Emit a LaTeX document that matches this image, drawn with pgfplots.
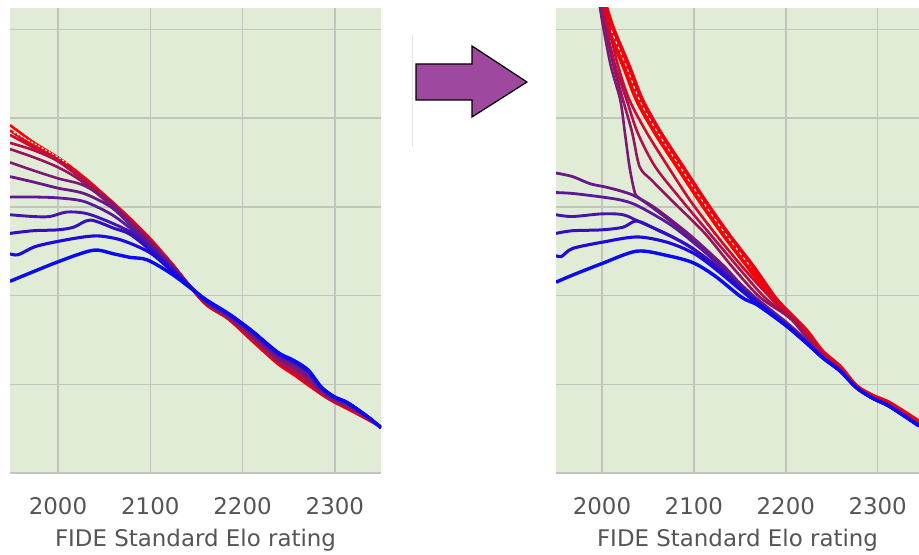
\documentclass[border=0pt]{standalone}
\usepackage{fontspec}
\setmainfont{DejaVu Sans}
\usepackage{pgfplots}
\pgfplotsset{compat=1.18}

\definecolor{panelbg}{RGB}{225,236,214}
\definecolor{gridc}{RGB}{192,198,188}
\definecolor{txt}{RGB}{85,85,85}
\definecolor{arrowc}{RGB}{158,72,160}
% red -> purple -> blue
\definecolor{c1}{RGB}{255,0,0}
\definecolor{c2}{RGB}{235,0,20}
\definecolor{c3}{RGB}{205,10,50}
\definecolor{c4}{RGB}{180,15,75}
\definecolor{c5}{RGB}{150,20,95}
\definecolor{c6}{RGB}{125,25,115}
\definecolor{c7}{RGB}{105,25,135}
\definecolor{c8}{RGB}{90,25,155}
\definecolor{c9}{RGB}{70,20,175}
\definecolor{c10}{RGB}{50,15,195}
\definecolor{c11}{RGB}{30,10,220}
\definecolor{c12}{RGB}{10,10,245}

\pgfplotsset{
  elo/.style={
    scale only axis, height=465bp,
    ymin=0, ymax=5.24,
    xtick={2000,2100,2200,2300}, ytick={0,1,2,3,4,5}, yticklabels={},
    scaled x ticks=false,
    grid=major, major grid style={gridc, line width=1.5bp},
    axis line style={draw=none}, tick style={draw=none},
    axis background/.style={fill=panelbg},
    /pgf/number format/assume math mode=true,
    /pgf/number format/1000 sep={},
    xticklabel style={font=\fontsize{23}{27}\selectfont, text=txt,
      inner sep=0pt, anchor=north, yshift=-24bp},
    xlabel={FIDE Standard Elo rating},
    xlabel style={at={(axis description cs:0.5,0)}, anchor=north,
      yshift=-56bp, inner sep=0pt, font=\fontsize{23}{27}\selectfont, text=txt},
    every axis plot/.append style={smooth, no markers},
  }
}

\begin{document}
\begin{tikzpicture}[x=1bp,y=1bp]
\path[use as bounding box, fill=white] (0,0) rectangle (919,555);

% left panel
\begin{axis}[elo, at={(10bp,82bp)}, anchor=south west, width=371bp,
  xmin=1948, xmax=2350]
\addplot[c1, line width=2.6bp] coordinates {(1948,3.92)(1973,3.73)(2005,3.52)(2032,3.30)(2057,3.07)(2078,2.87)(2100,2.64)(2125,2.34)(2158,1.92)(2184,1.74)(2209,1.50)(2238,1.23)(2255,1.11)(2271,0.99)(2285,0.89)(2299,0.80)(2314,0.72)(2336,0.60)(2350,0.52)};
\addplot[c2, line width=2.6bp] coordinates {(1948,3.86)(1970,3.71)(2002,3.52)(2028,3.32)(2057,3.07)(2078,2.86)(2100,2.63)(2125,2.34)(2158,1.92)(2184,1.74)(2209,1.51)(2238,1.24)(2255,1.12)(2271,1.00)(2285,0.89)(2299,0.80)(2314,0.73)(2336,0.60)(2350,0.52)};
\addplot[c3, line width=2.6bp] coordinates {(1948,3.81)(1973,3.67)(1999,3.52)(2028,3.30)(2057,3.06)(2078,2.85)(2100,2.62)(2125,2.33)(2158,1.93)(2184,1.75)(2209,1.52)(2238,1.25)(2255,1.14)(2271,1.01)(2285,0.90)(2299,0.81)(2314,0.73)(2336,0.61)(2350,0.52)};
\addplot[c4, line width=2.6bp] coordinates {(1948,3.72)(1973,3.64)(1999,3.52)(2024,3.34)(2057,3.04)(2078,2.84)(2100,2.61)(2125,2.33)(2158,1.93)(2184,1.75)(2209,1.53)(2238,1.26)(2255,1.15)(2271,1.03)(2285,0.91)(2299,0.81)(2314,0.74)(2336,0.61)(2350,0.52)};
\addplot[c5, line width=2.6bp] coordinates {(1948,3.65)(1973,3.56)(1999,3.45)(2024,3.30)(2057,3.02)(2078,2.83)(2100,2.60)(2125,2.32)(2158,1.94)(2184,1.76)(2209,1.55)(2238,1.28)(2255,1.18)(2271,1.06)(2285,0.92)(2299,0.82)(2314,0.75)(2336,0.62)(2350,0.52)};
\addplot[c6, line width=2.6bp] coordinates {(1948,3.50)(1973,3.41)(2000,3.32)(2028,3.24)(2057,3.05)(2078,2.82)(2100,2.59)(2125,2.32)(2158,1.94)(2184,1.77)(2209,1.56)(2238,1.30)(2255,1.20)(2271,1.08)(2285,0.93)(2299,0.83)(2314,0.76)(2336,0.62)(2350,0.52)};
\addplot[c7, line width=2.8bp] coordinates {(1948,3.34)(1973,3.28)(2000,3.21)(2028,3.15)(2057,3.00)(2078,2.80)(2100,2.58)(2125,2.31)(2158,1.95)(2184,1.78)(2209,1.58)(2238,1.31)(2255,1.22)(2271,1.10)(2285,0.94)(2299,0.84)(2314,0.77)(2336,0.62)(2350,0.51)};
\addplot[c8, line width=2.8bp] coordinates {(1948,3.11)(1973,3.11)(2000,3.10)(2028,3.06)(2057,2.92)(2078,2.76)(2100,2.56)(2125,2.30)(2158,1.95)(2184,1.78)(2209,1.59)(2238,1.33)(2255,1.24)(2271,1.12)(2285,0.95)(2299,0.85)(2314,0.78)(2336,0.63)(2350,0.51)};
\addplot[c9, line width=2.9bp] coordinates {(1948,2.91)(1973,2.89)(1991,2.89)(2009,2.94)(2028,2.93)(2046,2.87)(2078,2.72)(2100,2.54)(2125,2.29)(2158,1.96)(2184,1.79)(2209,1.60)(2238,1.34)(2255,1.25)(2271,1.14)(2285,0.96)(2299,0.86)(2314,0.79)(2336,0.63)(2350,0.51)};
\addplot[c10, line width=3bp] coordinates {(1948,2.70)(1973,2.73)(2000,2.74)(2017,2.77)(2035,2.85)(2060,2.76)(2078,2.69)(2100,2.51)(2125,2.28)(2158,1.96)(2184,1.80)(2209,1.61)(2238,1.35)(2255,1.26)(2271,1.15)(2285,0.97)(2299,0.86)(2314,0.79)(2336,0.63)(2350,0.51)};
\addplot[c11, line width=3.1bp] coordinates {(1948,2.47)(1957,2.46)(1975,2.55)(2000,2.61)(2028,2.66)(2046,2.67)(2070,2.62)(2100,2.48)(2125,2.26)(2158,1.97)(2184,1.80)(2209,1.61)(2238,1.36)(2255,1.27)(2271,1.16)(2285,0.97)(2299,0.86)(2314,0.79)(2336,0.63)(2350,0.51)};
\addplot[c12, line width=3.4bp] coordinates {(1948,2.16)(2000,2.38)(2038,2.51)(2060,2.47)(2078,2.43)(2097,2.40)(2125,2.23)(2158,1.97)(2184,1.80)(2209,1.61)(2238,1.36)(2255,1.27)(2271,1.16)(2285,0.97)(2299,0.86)(2314,0.79)(2336,0.63)(2350,0.51)};
\addplot[white, line width=1bp, dash pattern=on 2bp off 2bp] coordinates {(1952,3.84)(1975,3.71)(2000,3.56)(2010,3.49)};
\end{axis}

% right panel
\begin{axis}[elo, at={(556bp,82bp)}, anchor=south west, width=363bp,
  xmin=1950, xmax=2345]
\addplot[c1, line width=4bp] coordinates {(1991,5.55)(1999,5.24)(2007,4.99)(2024,4.57)(2038,4.20)(2058,3.83)(2082,3.45)(2106,3.07)(2131,2.70)(2159,2.32)(2184,1.98)(2203,1.78)(2223,1.58)(2240,1.35)(2259,1.18)(2277,0.97)(2295,0.85)(2313,0.77)(2345,0.56)};
\addplot[c1, line width=4bp] coordinates {(1994,5.55)(2002,5.24)(2010,4.99)(2027,4.57)(2041,4.20)(2061,3.83)(2085,3.45)(2109,3.07)(2134,2.70)(2162,2.32)(2186,1.98)(2204,1.79)(2223,1.59)(2240,1.36)(2259,1.19)(2277,0.97)(2295,0.86)(2313,0.78)(2345,0.57)};
\addplot[c2, line width=4bp] coordinates {(1997,5.55)(2005,5.24)(2013,4.99)(2030,4.57)(2044,4.20)(2064,3.83)(2088,3.45)(2112,3.07)(2137,2.70)(2165,2.32)(2188,1.98)(2205,1.79)(2223,1.60)(2240,1.37)(2259,1.20)(2277,0.98)(2295,0.87)(2313,0.79)(2345,0.58)};
\addplot[white, line width=1bp, dash pattern=on 3bp off 3bp] coordinates {(2010,4.99)(2027,4.57)(2041,4.20)(2061,3.83)(2085,3.45)(2109,3.07)(2134,2.70)(2162,2.32)};
\addplot[c3, line width=2.6bp] coordinates {(1998,5.55)(2001,5.24)(2008,4.99)(2018,4.57)(2030,4.20)(2049,3.83)(2072,3.45)(2096,3.07)(2123,2.70)(2153,2.32)(2183,1.98)(2215,1.67)(2240,1.34)(2259,1.17)(2277,0.97)(2295,0.85)(2313,0.77)(2345,0.55)};
\addplot[c4, line width=2.6bp] coordinates {(1997,5.55)(2000,5.24)(2005,4.99)(2015,4.57)(2027,4.20)(2039,3.83)(2058,3.45)(2087,3.07)(2117,2.70)(2148,2.32)(2177,1.98)(2210,1.70)(2223,1.54)(2240,1.33)(2259,1.17)(2277,0.97)(2295,0.85)(2313,0.76)(2345,0.55)};
\addplot[c5, line width=2.6bp] coordinates {(1996,5.55)(1999,5.24)(2004,4.99)(2013,4.57)(2023,4.20)(2033,3.83)(2041,3.45)(2054,3.30)(2076,3.07)(2112,2.70)(2142,2.32)(2172,1.98)(2204,1.75)(2223,1.52)(2240,1.32)(2259,1.16)(2277,0.97)(2295,0.85)(2313,0.76)(2345,0.54)};
\addplot[c6, line width=2.6bp] coordinates {(1995,5.55)(1998,5.24)(2002,4.99)(2010,4.57)(2020,4.20)(2025,3.83)(2030,3.45)(2035,3.19)(2039,3.11)(2059,2.98)(2096,2.68)(2132,2.34)(2150,2.14)(2168,1.97)(2186,1.82)(2204,1.67)(2223,1.49)(2240,1.31)(2259,1.16)(2277,0.96)(2295,0.84)(2313,0.75)(2345,0.54)};
\addplot[c7, line width=2.8bp] coordinates {(1950,3.38)(1968,3.34)(1987,3.26)(2005,3.22)(2023,3.17)(2038,3.11)(2059,2.96)(2096,2.66)(2132,2.32)(2150,2.12)(2168,1.96)(2186,1.81)(2204,1.66)(2223,1.48)(2240,1.31)(2259,1.16)(2277,0.96)(2295,0.84)(2313,0.75)(2345,0.54)};
\addplot[c8, line width=2.8bp] coordinates {(1950,3.16)(1968,3.15)(2000,3.11)(2023,3.07)(2041,3.00)(2077,2.78)(2114,2.47)(2150,2.12)(2168,1.95)(2186,1.80)(2204,1.65)(2223,1.47)(2240,1.30)(2259,1.15)(2277,0.96)(2295,0.84)(2313,0.75)(2345,0.53)};
\addplot[c9, line width=2.9bp] coordinates {(1950,2.91)(1968,2.89)(2000,2.92)(2023,2.91)(2041,2.83)(2077,2.66)(2114,2.42)(2150,2.10)(2168,1.94)(2186,1.79)(2204,1.64)(2223,1.47)(2240,1.30)(2259,1.15)(2277,0.96)(2295,0.84)(2313,0.75)(2345,0.53)};
\addplot[c10, line width=3bp] coordinates {(1950,2.70)(1968,2.73)(2000,2.74)(2023,2.77)(2038,2.84)(2060,2.74)(2096,2.55)(2132,2.25)(2150,2.09)(2168,1.93)(2186,1.78)(2204,1.63)(2223,1.46)(2240,1.30)(2259,1.15)(2277,0.96)(2295,0.84)(2313,0.75)(2345,0.53)};
\addplot[c11, line width=3.1bp] coordinates {(1950,2.45)(1956,2.44)(1968,2.53)(2000,2.60)(2038,2.66)(2071,2.60)(2099,2.48)(2121,2.32)(2150,2.07)(2168,1.92)(2186,1.78)(2204,1.63)(2223,1.46)(2240,1.30)(2259,1.15)(2277,0.96)(2295,0.84)(2313,0.75)(2345,0.53)};
\addplot[c12, line width=3.4bp] coordinates {(1950,2.15)(1968,2.23)(2000,2.36)(2038,2.50)(2071,2.45)(2099,2.37)(2123,2.22)(2152,1.98)(2168,1.90)(2186,1.77)(2204,1.63)(2223,1.46)(2240,1.30)(2259,1.15)(2277,0.96)(2295,0.84)(2313,0.75)(2345,0.53)};
\end{axis}

% arrow between the panels
\draw[gray!20, line width=0.8bp] (412,408) -- (412,520);
\draw[fill=arrowc, line width=1.2bp, line join=miter]
  (416,455) -- (472,455) -- (472,438) -- (527,473) -- (472,509) -- (472,491) -- (416,491) -- cycle;
\end{tikzpicture}
\end{document}
